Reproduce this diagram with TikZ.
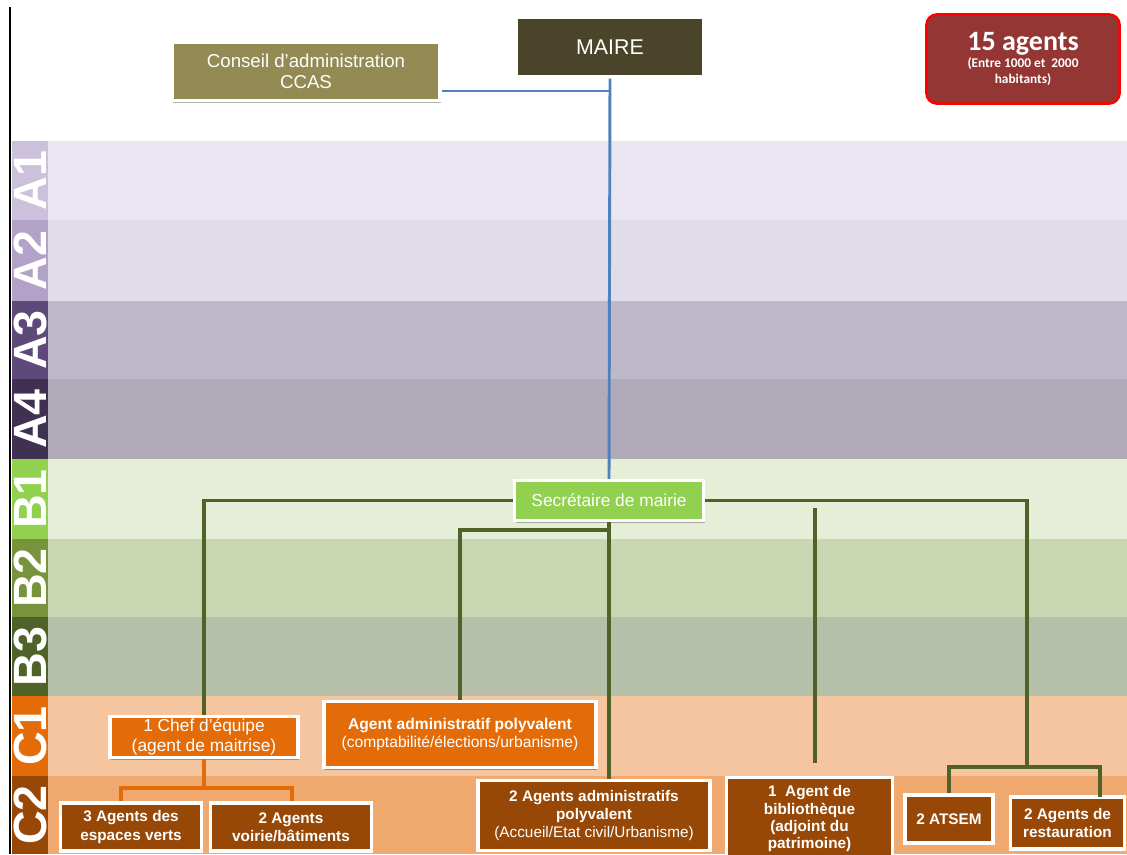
\documentclass[tikz,border=0pt]{standalone}
\usepackage{fontspec}
\setmainfont{Liberation Sans}
\newfontfamily\calib{Carlito}
\usetikzlibrary{positioning, calc, shadows}
\definecolor{labAa}{HTML}{CCC1DA}
\definecolor{labAb}{HTML}{B3A2C7}
\definecolor{labAc}{HTML}{5F497A}
\definecolor{labAd}{HTML}{403152}
\definecolor{labBa}{HTML}{92D050}
\definecolor{labBb}{HTML}{77933C}
\definecolor{labBc}{HTML}{4F6228}
\definecolor{labCa}{HTML}{E36C09}
\definecolor{labCb}{HTML}{984806}
\definecolor{bandAa}{HTML}{EAE6F1}
\definecolor{bandAb}{HTML}{E1DCEA}
\definecolor{bandAc}{HTML}{BFB8CA}
\definecolor{bandAd}{HTML}{B1ABB9}
\definecolor{bandBa}{HTML}{E6EED7}
\definecolor{bandBb}{HTML}{CAD6B2}
\definecolor{bandBc}{HTML}{B6C0A9}
\definecolor{bandCa}{HTML}{F4C59F}
\definecolor{bandCb}{HTML}{F0A96F}
\definecolor{ccasol}{HTML}{948A54}
\definecolor{mairebr}{HTML}{4A452A}
\definecolor{agred}{HTML}{943634}
\definecolor{mlblue}{HTML}{4F81BD}

\begin{document}
\begin{tikzpicture}[x=0.75pt, y=-0.75pt,
    obox/.style={rectangle, draw=white, line width=2.4pt, text=white, align=center,
      inner sep=1pt, drop shadow={shadow xshift=1pt, shadow yshift=-1.5pt, opacity=0.3, fill=black}},
    hbox/.style={obox, fill=ccasol, font=\fontsize{14}{16}\selectfont},
    cbox/.style={obox, fill=labCa, font=\fontsize{11.7}{14}\selectfont},
    dbox/.style={obox, fill=labCb, font=\bfseries\fontsize{11.5}{13.7}\selectfont},
    bandlbl/.style={rotate=90, text=white, font=\bfseries\fontsize{35}{35}\selectfont, inner sep=0pt},
    tree/.style={draw=labBc, line width=2.5pt},
  ]
    \clip (0,0) rectangle (1127,854);
    \fill[white] (0,0) rectangle (1127,854);

    \foreach \lab/\ya/\yb/\lc/\fc in {A1/141/220/labAa/bandAa, A2/220/301/labAb/bandAb,
        A3/301/379/labAc/bandAc, A4/379/459/labAd/bandAd, B1/459/539/labBa/bandBa,
        B2/539/617/labBb/bandBb, B3/617/696/labBc/bandBc, C1/696/776/labCa/bandCa,
        C2/776/854/labCb/bandCb} {
      \fill[\fc] (12,\ya) rectangle (1127,\yb);
      \fill[\lc] (12,\ya) rectangle (48,\yb);
      \node[bandlbl] (l\lab) at (30,{(\ya+\yb)/2}) {\lab};
    }
    \draw[black, line width=1pt] (10,7) -- (10,854);

    \node[hbox, minimum width=201pt, minimum height=44pt] (ccas) at (306,71.5)
      {Conseil d’administration\\CCAS};
    \node[hbox, fill=mairebr, minimum width=141pt, minimum height=45pt,
      font=\fontsize{16}{18}\selectfont] (maire) at (610,47) {MAIRE};
    \node[rectangle, rounded corners=8pt, draw=red, line width=1.8pt, fill=agred,
      text=white, align=center, minimum width=145pt, minimum height=67pt,
      font=\calib\bfseries] (agents) at (1023,59)
      {\fontsize{21}{23}\selectfont 15 agents\\[1pt]
       \fontsize{10}{12.5}\selectfont (Entre 1000 et~~2000\\habitants)};

    \node[obox, fill=labBa, minimum width=142pt, minimum height=30pt,
      font=\fontsize{13}{15}\selectfont] (secr) at (609,500.5) {Secrétaire de mairie};

    \node[cbox, minimum width=141pt, minimum height=31pt,
      font=\fontsize{13}{15}\selectfont] (chef) at (204,737)
      {1 Chef d’équipe\\(agent de maitrise)};
    \node[cbox, minimum width=204pt, minimum height=50pt] (aap) at (460,734.5)
      {\textbf{Agent administratif polyvalent}\\(comptabilité/élections/urbanisme)};

    \node[dbox, minimum width=106pt, minimum height=36pt] (ev) at (131,827)
      {3 Agents des\\espaces verts};
    \node[dbox, minimum width=121pt, minimum height=36pt] (vb) at (291,827)
      {2 Agents\\voirie/bâtiments};
    \node[dbox, minimum width=174pt, minimum height=52pt] (aapb) at (594,815.5)
      {2 Agents administratifs\\polyvalent\\\mdseries(Accueil/Etat civil/Urbanisme)};
    \node[dbox, minimum width=125pt, minimum height=62pt,
      font=\bfseries\fontsize{11.5}{13}\selectfont] (bib) at (809.5,819)
      {1~~Agent de\\bibliothèque\\(adjoint du\\patrimoine)};
    \node[dbox, minimum width=66pt, minimum height=36pt] (atsem) at (949,819) {2 ATSEM};
    \node[dbox, minimum width=85pt, minimum height=39pt] (rest) at (1067.5,823)
      {2 Agents de\\restauration};

    \coordinate (bj) at (610,91);
    \coordinate (mj) at (610,530);
    \coordinate (rj) at (1027,767);
    \coordinate (rr) at (1100,797);
    \coordinate (bt) at (815,508);
    \coordinate (ol) at (121,788);
    \coordinate (or) at (292,788);

    \draw[mlblue, line width=2.2pt] (maire.south) -- (secr.north);
    \draw[mlblue, line width=2.2pt] (ccas.east |- bj) -- (bj);

    \draw[tree] (chef.north) |- (secr.west);
    \draw[tree] (secr.east) -| (rj);
    \draw[tree] (atsem.north) |- (rj) -- (rr |- rj) -- (rr);
    \draw[tree] (secr.south) -- (secr.south |- aapb.north);
    \draw[tree] (mj) -| (aap.north);
    \draw[tree, shorten >=10pt] (bt) -- (bt |- bib.north);

    \draw[labCa, line width=2.5pt] (chef.south) -- (chef.south |- ol);
    \draw[labCa, line width=2.5pt] (ol |- ev.north) -- (ol) -- (or) -- (or |- vb.north);
  \end{tikzpicture}
\end{document}
